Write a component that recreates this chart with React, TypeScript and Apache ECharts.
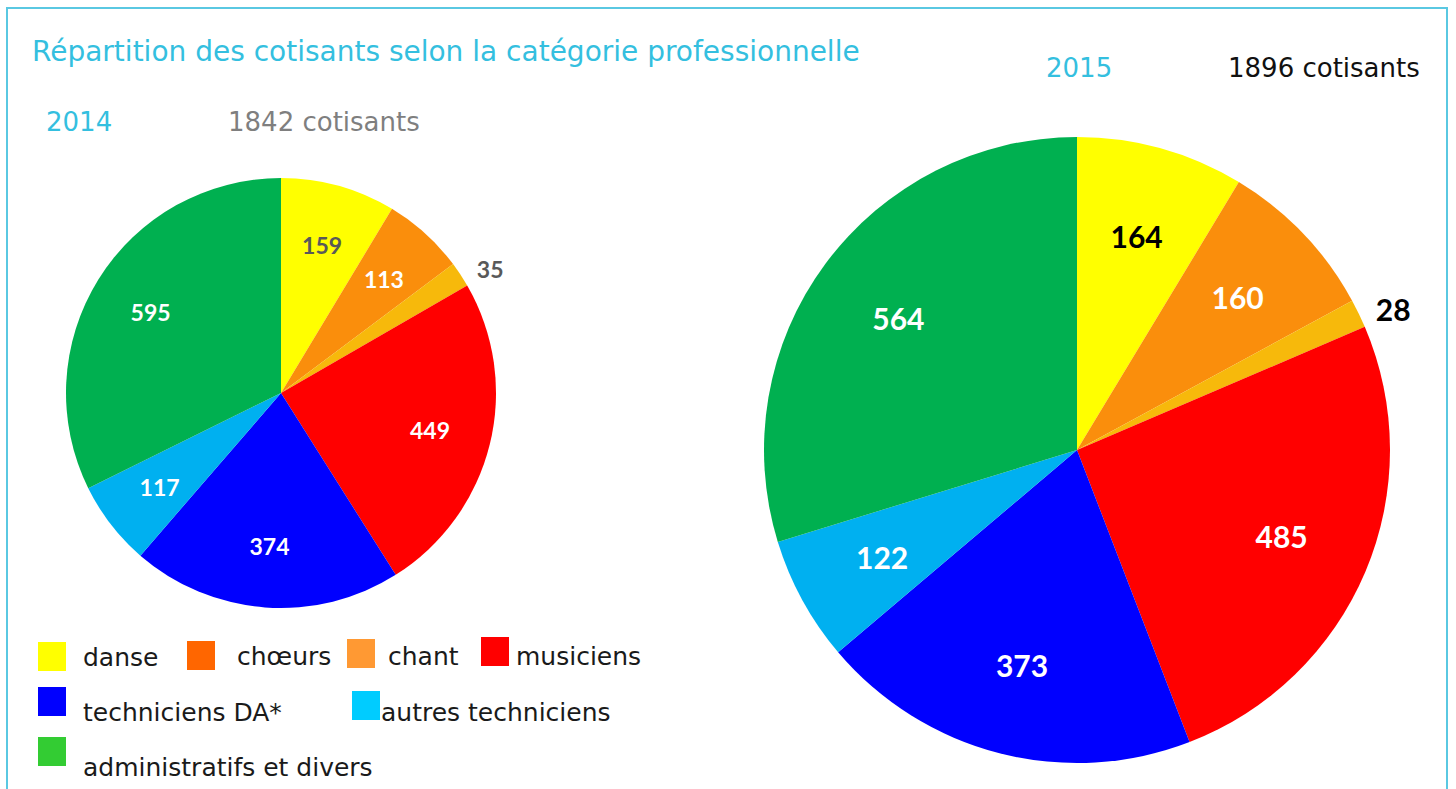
import React, { useEffect, useRef } from "react";
import * as echarts from "echarts";

const categories = ["danse", "chœurs", "chant", "musiciens", "techniciens DA*", "autres techniciens", "administratifs et divers"];
const values2014 = [159, 113, 35, 449, 374, 117, 595];
const values2015 = [164, 160, 28, 485, 373, 122, 564];
const total2014 = "1842 cotisants";
const total2015 = "1896 cotisants";
const sliceColors = ["#FFFF00", "#FA8E0C", "#F7B90B", "#FF0000", "#0000FF", "#00B0F0", "#00B050"];
const legendColors = ["#FFFF00", "#FF6600", "#FF9933", "#FF0000", "#0000FF", "#00CCFF", "#33CC33"];
const labelColors2014 = ["#595959", "#FFFFFF", "#595959", "#FFFFFF", "#FFFFFF", "#FFFFFF", "#FFFFFF"];
const labelColors2015 = ["#000000", "#FFFFFF", "#000000", "#FFFFFF", "#FFFFFF", "#FFFFFF", "#FFFFFF"];
const outsideIndex = 2;

// legend layout: [squareX, squareY, textX, textY]
const legendLayout = [
  [38, 642, 83, 657],
  [187, 641, 237, 656],
  [347, 639, 388, 656],
  [481, 637, 516, 656],
  [38, 687, 83, 712],
  [352, 691, 381, 712],
  [38, 737, 83, 767],
];

const FONT = "'DejaVu Sans'";
const BOLD = "Lato";
const CYAN = "#34BFDF";

function pieSeries(values: number[], labelColors: string[], center: number[], R: number, fs: number) {
  const base = {
    type: "pie",
    center,
    startAngle: 90,
    clockwise: true,
    silent: true,
    avoidLabelOverlap: false,
  };
  return [
    {
      ...base,
      radius: [0, R],
      label: { show: false },
      labelLine: { show: false },
      data: values.map((v, i) => ({ name: categories[i], value: v, itemStyle: { color: sliceColors[i] } })),
    },
    {
      ...base,
      radius: [R * 0.4, R],
      z: 5,
      itemStyle: { color: "rgba(0,0,0,0)" },
      labelLine: { show: false, length: 10, length2: 4 },
      data: values.map((v, i) => ({
        name: categories[i],
        value: v,
        label: {
          show: true,
          position: i === outsideIndex ? "outside" : "inside",
          formatter: String(v),
          color: labelColors[i],
          fontSize: fs,
          fontWeight: "bold",
          fontFamily: BOLD,
          distanceToLabelLine: 4,
        },
      })),
    },
  ];
}

export default function App() {
  const ref = useRef<HTMLDivElement>(null);
  useEffect(() => {
    document.body.style.margin = "0";
    const chart = echarts.init(ref.current!, null, { renderer: "svg" });
    const graphics: any[] = [
      {
        type: "rect",
        shape: { x: 7, y: 8, width: 1440, height: 820 },
        style: { fill: "none", stroke: "#5AC8E2", lineWidth: 2 },
        z: 100,
      },
      {
        type: "text",
        x: 32,
        y: 51,
        style: { text: "Répartition des cotisants selon la catégorie professionnelle", fill: CYAN, font: `28px ${FONT}`, verticalAlign: "middle" },
      },
      { type: "text", x: 46, y: 122, style: { text: "2014", fill: CYAN, font: `26px ${FONT}`, verticalAlign: "middle" } },
      { type: "text", x: 228, y: 122, style: { text: total2014, fill: "#7F7F7F", font: `26px ${FONT}`, verticalAlign: "middle" } },
      { type: "text", x: 1046, y: 68, style: { text: "2015", fill: CYAN, font: `26px ${FONT}`, verticalAlign: "middle" } },
      { type: "text", x: 1228, y: 68, style: { text: total2015, fill: "#111111", font: `26px ${FONT}`, verticalAlign: "middle" } },
    ];
    categories.forEach((c, i) => {
      const [sx, sy, tx, ty] = legendLayout[i];
      graphics.push({ type: "rect", shape: { x: sx, y: sy, width: 28, height: 29 }, style: { fill: legendColors[i] } });
      graphics.push({ type: "text", x: tx, y: ty, style: { text: c, fill: "#1A1A1A", font: `25px ${FONT}`, verticalAlign: "middle" } });
    });
    chart.setOption({
      animation: false,
      backgroundColor: "#FFFFFF",
      series: [
        ...pieSeries(values2014, labelColors2014, [281, 393], 215, 23),
        ...pieSeries(values2015, labelColors2015, [1077, 450], 313, 30),
      ],
      graphic: graphics,
    });
    return () => chart.dispose();
  }, []);
  return <div ref={ref} style={{ width: 1456, height: 789 }} />;
}
